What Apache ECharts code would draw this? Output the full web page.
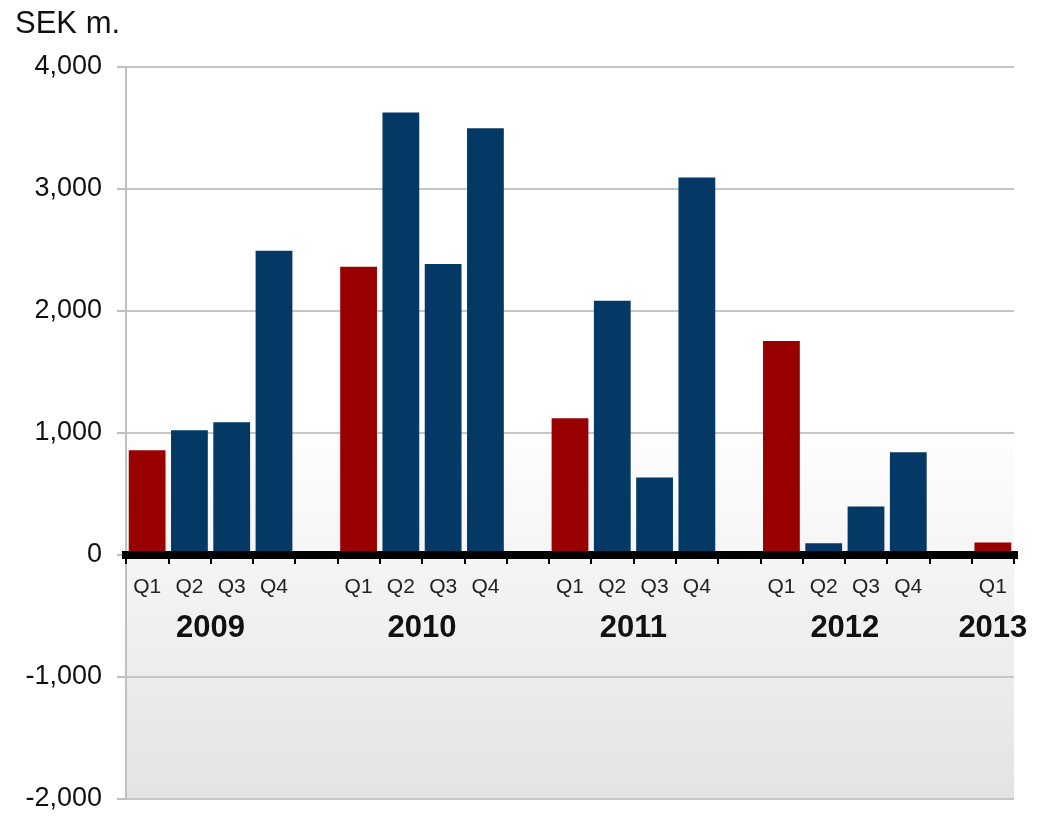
<!DOCTYPE html>
<html><head><meta charset="utf-8">
<script src="https://cdn.jsdelivr.net/npm/echarts@6/dist/echarts.min.js"></script>
<style>html,body{margin:0;padding:0;background:#fff}#c{width:1042px;height:816px}</style>
</head><body><div id="c"></div>
<script>
const quarters = ['Q1','Q2','Q3','Q4','', 'Q1','Q2','Q3','Q4','', 'Q1','Q2','Q3','Q4','', 'Q1','Q2','Q3','Q4','', 'Q1'];
const slotYears = ['2009','2009','2009','2009','', '2010','2010','2010','2010','', '2011','2011','2011','2011','', '2012','2012','2012','2012','', '2013'];
const values = [858,1022,1088,2494,null, 2362,3628,2386,3497,null, 1121,2084,636,3094,null, 1755,96,398,842,null, 102];
const yMin = -2000, yMax = 4000, yStep = 1000;
const unitLabel = 'SEK m.';

const FONT = 'Arial, "Liberation Sans", sans-serif';
const RED = '#990000', BLUE = '#033964';

// year label centres (in slot units) derived from the slot/year list
const yearCenters = {};
slotYears.forEach((y, i) => {
  if (!y) return;
  if (!yearCenters[y]) yearCenters[y] = {first: i, last: i};
  yearCenters[y].last = i;
});
const yearAt = v => {
  for (const y in yearCenters) {
    const c = (yearCenters[y].first + yearCenters[y].last + 1) / 2;
    if (Math.abs(c - v) < 1e-6) return y;
  }
  return '';
};

const chart = echarts.init(document.getElementById('c'));
chart.setOption({
  animation: false,
  title: {
    text: unitLabel, left: 10, top: 4,
    textStyle: {fontFamily: FONT, fontSize: 31, fontWeight: 'normal', color: '#111'}
  },
  grid: {
    left: 126, right: 28, top: 67, bottom: 17, show: true, borderWidth: 0,
    containLabel: false, outerBoundsMode: 'none',
    backgroundColor: new echarts.graphic.LinearGradient(0, 0, 0, 1, [
      {offset: 0, color: '#ffffff'},
      {offset: 0.48, color: '#ffffff'},
      {offset: 1, color: '#e3e3e3'}
    ])
  },
  xAxis: [{
    type: 'category', data: quarters, z: 3,
    axisLine: {onZero: true, lineStyle: {color: '#000', width: 8, cap: 'square'}},
    axisTick: {show: true, interval: 0, length: 9, lineStyle: {color: '#000', width: 2}},
    axisLabel: {interval: 0, margin: -222, fontFamily: FONT, fontSize: 21, color: '#222'},
    splitLine: {show: false}
  }, {
    type: 'value', position: 'bottom', min: 0, max: quarters.length, interval: 0.5,
    axisLine: {show: false, onZero: false}, axisTick: {show: false}, splitLine: {show: false},
    axisLabel: {margin: -186, fontFamily: FONT, fontSize: 31, fontWeight: 'bold', color: '#111',
      formatter: v => yearAt(v), showMinLabel: true, showMaxLabel: true}
  }],
  yAxis: {
    type: 'value', min: yMin, max: yMax, interval: yStep,
    axisLine: {show: true, lineStyle: {color: '#c0c0c0', width: 2}},
    axisTick: {show: true, length: 9, lineStyle: {color: '#c0c0c0', width: 2}},
    axisLabel: {margin: 24, fontFamily: FONT, fontSize: 27, color: '#111',
      formatter: v => v.toLocaleString('en-US')},
    splitLine: {show: true, lineStyle: {color: '#c6c6c6', width: 2}}
  },
  series: [{
    type: 'bar', xAxisIndex: 0, barWidth: '87%',
    data: values.map((v, i) => ({value: v, itemStyle: {color: quarters[i] === 'Q1' ? RED : BLUE}}))
  }]
});
</script></body></html>
